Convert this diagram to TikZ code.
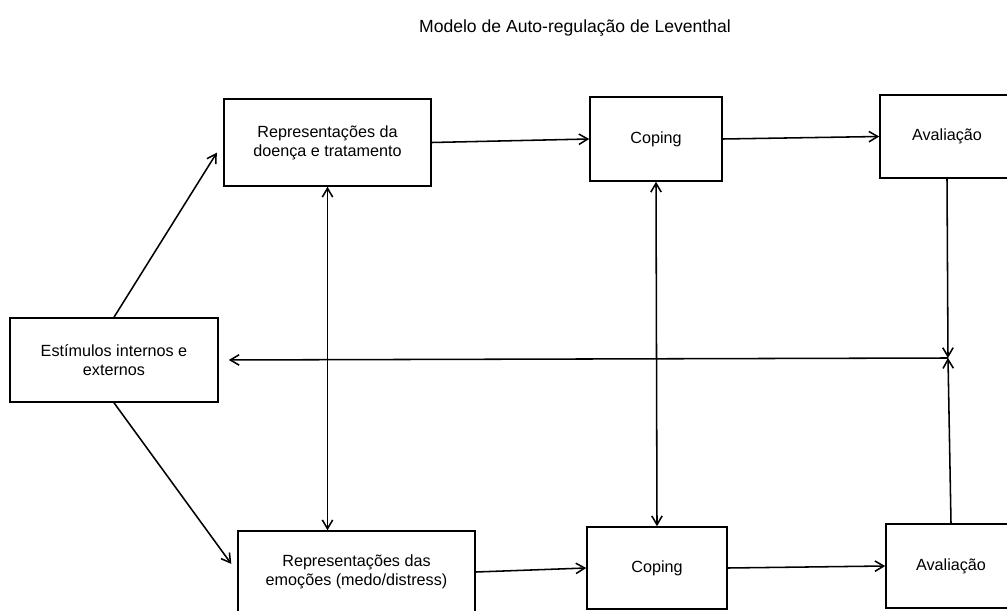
\documentclass[tikz,border=0pt]{standalone}
\usepackage{fontspec}
\setmainfont{Liberation Sans}
\usetikzlibrary{arrows.meta,positioning}

\begin{document}
\begin{tikzpicture}[
    x=0.025cm, y=-0.025cm,
    box/.style={rectangle,draw=black,line width=1.1pt,align=center,
      inner sep=0pt,font=\fontsize{11.5}{13.5}\selectfont},
    arrow/.style={-{Straight Barb[length=2.2mm,width=2.6mm]},line width=1.1pt},
    biarrow/.style={{Straight Barb[length=2.2mm,width=2.6mm]}-{Straight Barb[length=2.2mm,width=2.6mm]},line width=1.1pt}
  ]
    \useasboundingbox (0,0) rectangle (1007,611);
    \node[font=\fontsize{12.5}{15}\selectfont] (title) at (575,28) {Modelo de Auto-regulação de Leventhal};
    % upper row
    \node[box,minimum width=5.175cm,minimum height=2.175cm] (repdoenca) at (327.5,142.5) {Representações da\\doença e tratamento};
    \node[box,minimum width=3.3cm,minimum height=2.1cm] (copingtop) at (656,139) {Coping};
    \node[box,minimum width=3.35cm,minimum height=2.075cm] (avaltop) at (947,136.5) {Avaliação};
    % left
    \node[box,minimum width=5.2cm,minimum height=2.1cm] (estimulos) at (114,360) {Estímulos internos e\\externos};
    % lower row
    \node[box,minimum width=5.925cm,minimum height=2.05cm] (repemocoes) at (356.5,572) {Representações das\\emoções (medo/distress)};
    \node[box,minimum width=3.5cm,minimum height=2.05cm] (copingbot) at (657,568) {Coping};
    \node[box,minimum width=3.25cm,minimum height=2.1cm] (avalbot) at (951,566) {Avaliação};
    \coordinate (junction) at (948,358);
    % connectors
    \draw[arrow,shorten >=0.3cm] (estimulos.north) -- (repdoenca.west);
    \draw[arrow,shorten >=0.25cm] (estimulos.south) -- (repemocoes.west);
    \draw[arrow] (repdoenca.east) -- (copingtop.west);
    \draw[arrow] (copingtop.east) -- (avaltop.west);
    \draw[arrow] (repemocoes.east) -- (copingbot.west);
    \draw[arrow] (copingbot.east) -- (avalbot.west);
    \draw[biarrow] (repdoenca.south) -- (repdoenca.south |- repemocoes.north);
    \draw[biarrow] (copingtop.south) -- (copingbot.north);
    \draw[arrow] (avaltop.south) -- (junction);
    \draw[arrow] (avalbot.north) -- (junction);
    \draw[arrow,shorten >=0.25cm] (junction) -- (estimulos.east);
  \end{tikzpicture}
\end{document}
